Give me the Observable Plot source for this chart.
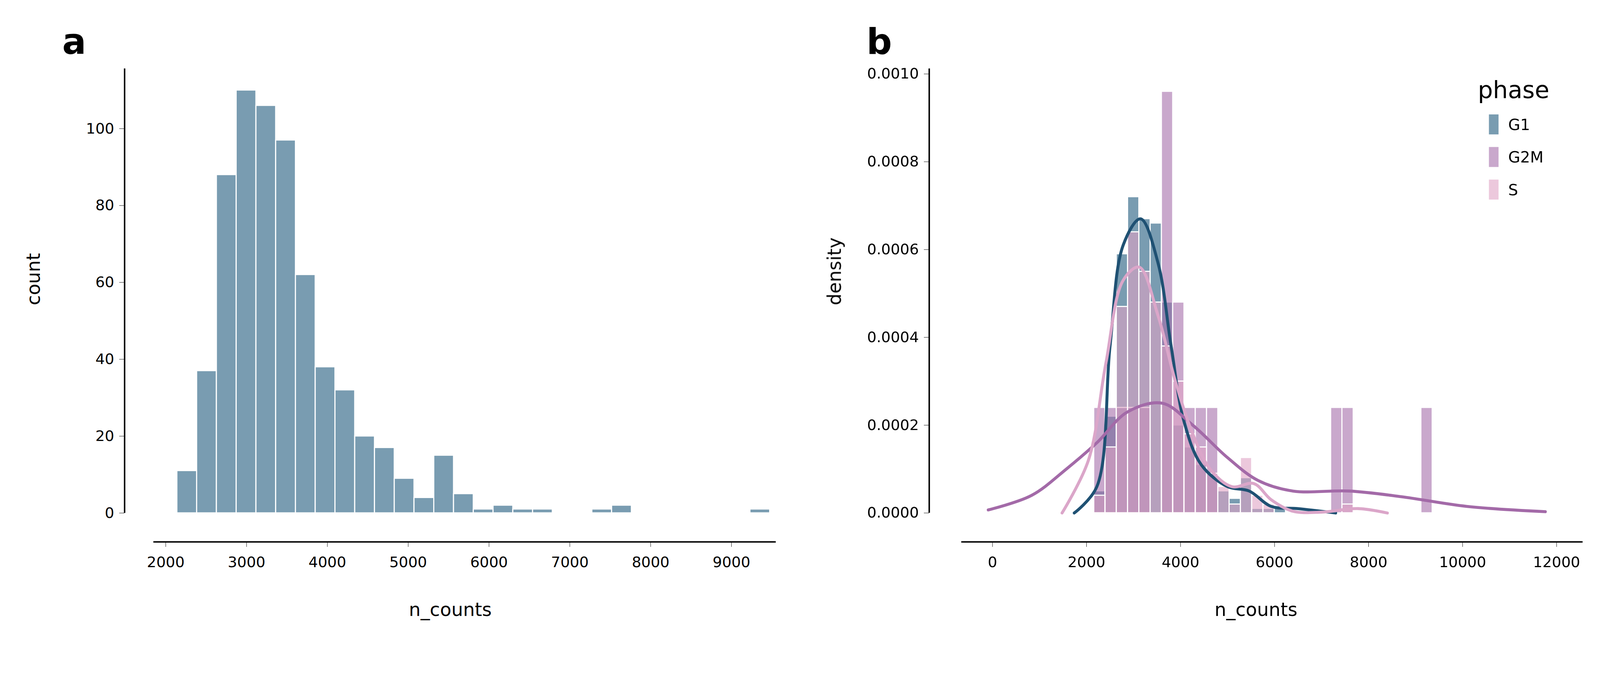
<!DOCTYPE html>
<html><head><meta charset="utf-8">
<script src="https://cdn.jsdelivr.net/npm/d3@7"></script>
<script src="https://cdn.jsdelivr.net/npm/@observablehq/plot@0.6"></script>
<style>
html,body{margin:0;padding:0;background:#fff;font-family:"DejaVu Sans",sans-serif;overflow:hidden;}
#wrap{position:relative;width:4321px;height:1723px;overflow:hidden;transform-origin:0 0;}
.p{position:absolute;top:0;height:1723px;}
.p svg{display:block;max-width:none;}
.lab{position:absolute;font-weight:bold;font-size:96px;font-family:"DejaVu Sans";line-height:1;}
</style></head><body>
<div id="wrap">
<div class="p" id="pa" style="left:0"></div>
<div class="p" id="pb" style="left:2160px"></div>
<div class="lab" style="left:168px;top:65px">a</div>
<div class="lab" style="left:2340px;top:65px">b</div>
</div>
<script>
// Panel a: histogram of n_counts
const binStartA = 2140, binWidthA = 244.5;
const countsA = [11,37,88,110,106,97,62,38,32,20,17,9,4,15,5,1,2,1,1,0,0,1,2,0,0,0,0,0,0,1];
// Panel b: density histograms per phase
const binStartB = 2157, binWidthB = 240;
const g1Dens = [0.00005,0.00022,0.00059,0.00072,0.00067,0.00066,0.00048,0.00020,0.00015,0.00011,0.00009,0.00005,0.000033,0.00008,0.00001,0.00001,0.00001,0,0,0,0,0];
const g2mDens = [0.00024,0.00024,0.00024,0.00024,0.00024,0,0.00096,0.00048,0.00024,0.00024,0.00024,0,0,0,0,0,0,0,0,0,0,0.00024,0.00024,0,0,0,0,0,0,0.00024];
const sDens = [0.00004,0.00015,0.00047,0.00064,0.00055,0.00048,0.00038,0.00030,0.00018,0.00015,0.00009,0.00006,0.00002,0.000126,0.00004,0.00002,0,0,0,0,0,0,0.00002];
// KDE curves
const kdeG1X = [1740,2220,2500,2780,3150,3520,3800,4070,4440,5000,5460,5930,6480,7300];
const kdeG1Y = [0,0.00006,0.00038,0.00061,0.00067,0.00057,0.00038,0.00021,0.00011,0.00006,0.00005,0.000015,0.00001,0];
const kdeSX = [1480,2040,2410,2780,3120,3520,3890,4260,4630,5090,5560,5930,6390,7000,7780,8400];
const kdeSY = [0,0.00012,0.00034,0.00053,0.00056,0.00045,0.0003,0.00018,0.0001,0.00006,0.000067,0.00003,0.000004,0.000002,0.00001,0];
const kdeG2MX = [-90,830,1570,2220,2870,3610,4260,5000,5650,6390,7590,8700,10090,11760];
const kdeG2MY = [0.000007,0.00004,0.0001,0.00016,0.00023,0.00025,0.0002,0.000126,0.000074,0.00005,0.00005,0.000037,0.000015,0.000003];
const phases = ["G1","G2M","S"];
const barColors = ["#1f5a7d","#a56eaa","#dfa3c5"];
const lineColors = ["#1f5173","#a36aa8","#dba6c9"];

const tickFont = 40, labFont = 50;

function fit(){
  const s = Math.min(window.innerWidth/4321, window.innerHeight/1723);
  document.getElementById("wrap").style.transform = `scale(${s})`;
}
fit(); window.addEventListener("resize", fit);

// ---------- Panel a ----------
const barsA = countsA.map((c,i)=>({x1:binStartA+i*binWidthA,x2:binStartA+(i+1)*binWidthA,y:c})).filter(d=>d.y>0);
const pa = Plot.plot({
  width:2150,height:1723,marginLeft:336,marginRight:55,marginTop:185,marginBottom:260,
  style:{fontFamily:"DejaVu Sans",fontSize:tickFont+"px",background:"white"},
  x:{domain:[1491,9550]},
  y:{domain:[-7.5,115.6]},
  marks:[
    Plot.rect(barsA,{x1:"x1",x2:"x2",y1:0,y2:"y",fill:"#1f5a7d",fillOpacity:0.6,stroke:"white",strokeWidth:3}),
    Plot.ruleX([1491],{y1:0,y2:115.6,strokeWidth:4,stroke:"black"}),
    Plot.ruleY([-7.5],{x1:1849,x2:9550,strokeWidth:4,stroke:"black"}),
    Plot.axisY({ticks:[0,20,40,60,80,100],tickSize:14,tickPadding:14,tickWidth:4,label:null,fontSize:tickFont}),
    Plot.axisX({ticks:[2000,3000,4000,5000,6000,7000,8000,9000],tickSize:14,tickPadding:26,tickFormat:d=>String(d),label:null,fontSize:tickFont}),
    Plot.text(["n_counts"],{frameAnchor:"bottom",dy:200,fontSize:labFont}),
    Plot.text(["count"],{frameAnchor:"left",dx:-245,rotate:-90,fontSize:labFont})
  ]
});
document.getElementById("pa").append(pa);

// ---------- Panel b ----------
const barsB = [];
[g1Dens,g2mDens,sDens].forEach((arr,k)=>arr.forEach((v,i)=>{ if(v>0) barsB.push({phase:phases[k],x1:binStartB+i*binWidthB,x2:binStartB+(i+1)*binWidthB,y:v}); }));
const kde = [];
[[kdeG1X,kdeG1Y],[kdeG2MX,kdeG2MY],[kdeSX,kdeSY]].forEach(([xs,ys],k)=>xs.forEach((x,i)=>kde.push({phase:phases[k],x,y:ys[i]})));
const colorScale = {domain:phases,range:barColors};
const pb = Plot.plot({
  width:2161,height:1723,marginLeft:349,marginRight:47,marginTop:185,marginBottom:260,
  style:{fontFamily:"DejaVu Sans",fontSize:tickFont+"px",background:"transparent"},
  x:{domain:[-1346,12557]},
  y:{domain:[-0.0000658,0.001012]},
  color:colorScale,
  marks:[
    Plot.rect(barsB,{x1:"x1",x2:"x2",y1:0,y2:"y",fill:"phase",fillOpacity:0.6,stroke:"white",strokeWidth:3}),
    Plot.line(kde,{x:"x",y:"y",z:"phase",stroke:d=>lineColors[phases.indexOf(d.phase)],strokeWidth:8,curve:"catmull-rom"}),
    Plot.ruleX([-1346],{y1:0,y2:0.001012,strokeWidth:4,stroke:"black"}),
    Plot.ruleY([-0.0000658],{x1:-661,x2:12557,strokeWidth:4,stroke:"black"}),
    Plot.axisY({ticks:[0,0.0002,0.0004,0.0006,0.0008,0.001],tickFormat:d=>d.toFixed(4),tickSize:14,tickPadding:14,tickWidth:4,label:null,fontSize:tickFont}),
    Plot.axisX({ticks:[0,2000,4000,6000,8000,10000,12000],tickFormat:d=>String(d),tickSize:14,tickPadding:26,label:null,fontSize:tickFont}),
    Plot.text(["n_counts"],{frameAnchor:"bottom",dy:200,fontSize:labFont}),
    Plot.text(["density"],{frameAnchor:"left",dx:-255,rotate:-90,fontSize:labFont})
  ]
});
document.getElementById("pb").append(pb);

// Legend (HTML, right of panel b)
const leg = document.createElement("div");
leg.style.cssText="position:absolute;left:3991px;top:208px;font-family:'DejaVu Sans';";
leg.innerHTML = `<div style="font-size:64px;margin-bottom:14px;line-height:1.1">phase</div>` +
  phases.map((p,i)=>`<div style="display:flex;align-items:center;height:88px;margin-left:30px"><span style="display:inline-block;width:26px;height:54px;background:${barColors[i]};opacity:0.6;margin-right:26px"></span><span style="font-size:42px">${p}</span></div>`).join("");
document.getElementById("wrap").append(leg);
</script>
</body></html>
